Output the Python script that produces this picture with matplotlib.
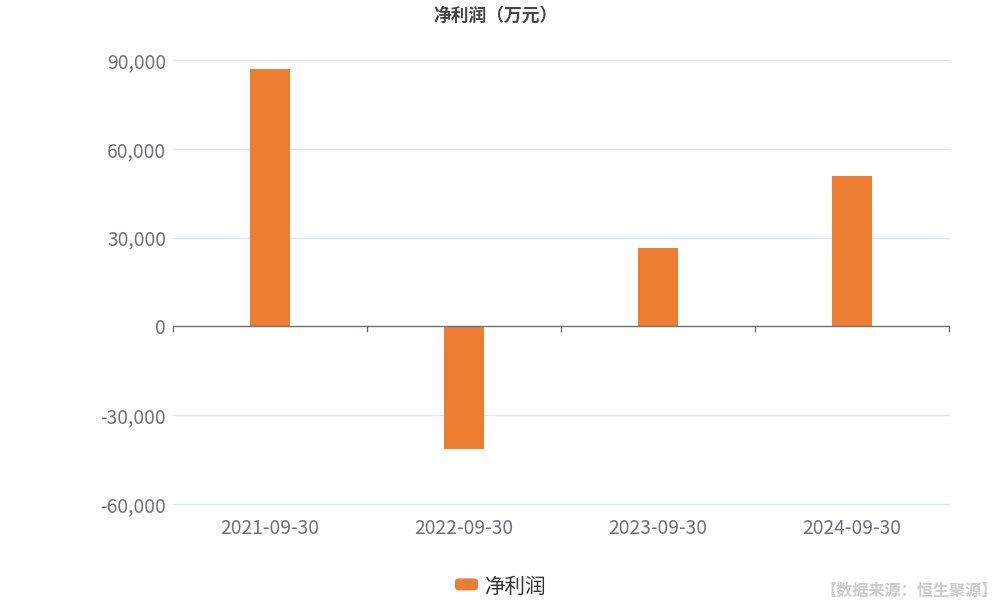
import numpy as np
import matplotlib.pyplot as plt
from matplotlib.patches import FancyBboxPatch

plt.rcParams['font.family'] = ['Noto Sans CJK SC', 'DejaVu Sans']

dates = ['2021-09-30', '2022-09-30', '2023-09-30', '2024-09-30']
profit = [87060, -41450, 26590, 50680]
yticks = [-60000, -30000, 0, 30000, 60000, 90000]

fig = plt.figure(figsize=(10, 6), dpi=100)
ax = fig.add_axes([0.173, 0.16, 0.776, 0.74])

x = np.arange(len(dates))
ax.bar(x, profit, width=0.206, color='#ED7D31', zorder=3)

ax.set_xlim(-0.5, len(dates) - 0.5)
ax.set_ylim(-60000, 90000)
ax.set_yticks(yticks)
ax.set_yticklabels(['{:,}'.format(v) for v in yticks])
for v in yticks:
    if v != 0:
        ax.axhline(v, color='#e0e6f1', linewidth=1, zorder=0, clip_on=False)
ax.axhline(0, color='#6e7079', linewidth=1, zorder=4)

ax.set_xticks(x)
ax.set_xticklabels(dates)
ax.tick_params(axis='x', length=0, pad=10, labelsize=13.8, labelcolor='#6e7079')
ax.tick_params(axis='y', length=0, pad=5, labelsize=13.8, labelcolor='#6e7079')
# category boundary ticks on the zero line
for xm in np.arange(-0.5, len(dates)):
    ax.plot([xm, xm], [0, -1500], color='#6e7079', linewidth=1, zorder=4, clip_on=False)

for s in ax.spines.values():
    s.set_visible(False)

fig.text(0.495, 0.973, '净利润（万元）', ha='center', va='center', fontsize=12.8,
         fontweight='bold', color='#464646')

# legend
fig.patches.append(FancyBboxPatch((0.455, 0.016), 0.023, 0.02, boxstyle='round,pad=0,rounding_size=0.005',
                                  transform=fig.transFigure, facecolor='#ED7D31', edgecolor='none'))
fig.text(0.484, 0.022, '净利润', ha='left', va='center', fontsize=14.8, color='#333333')

fig.text(0.998, 0.016, '【数据来源：恒生聚源】', ha='right', va='center', fontsize=11.6,
         fontweight='bold', color='#cccccc')

fig.savefig('out.png', dpi=100)
